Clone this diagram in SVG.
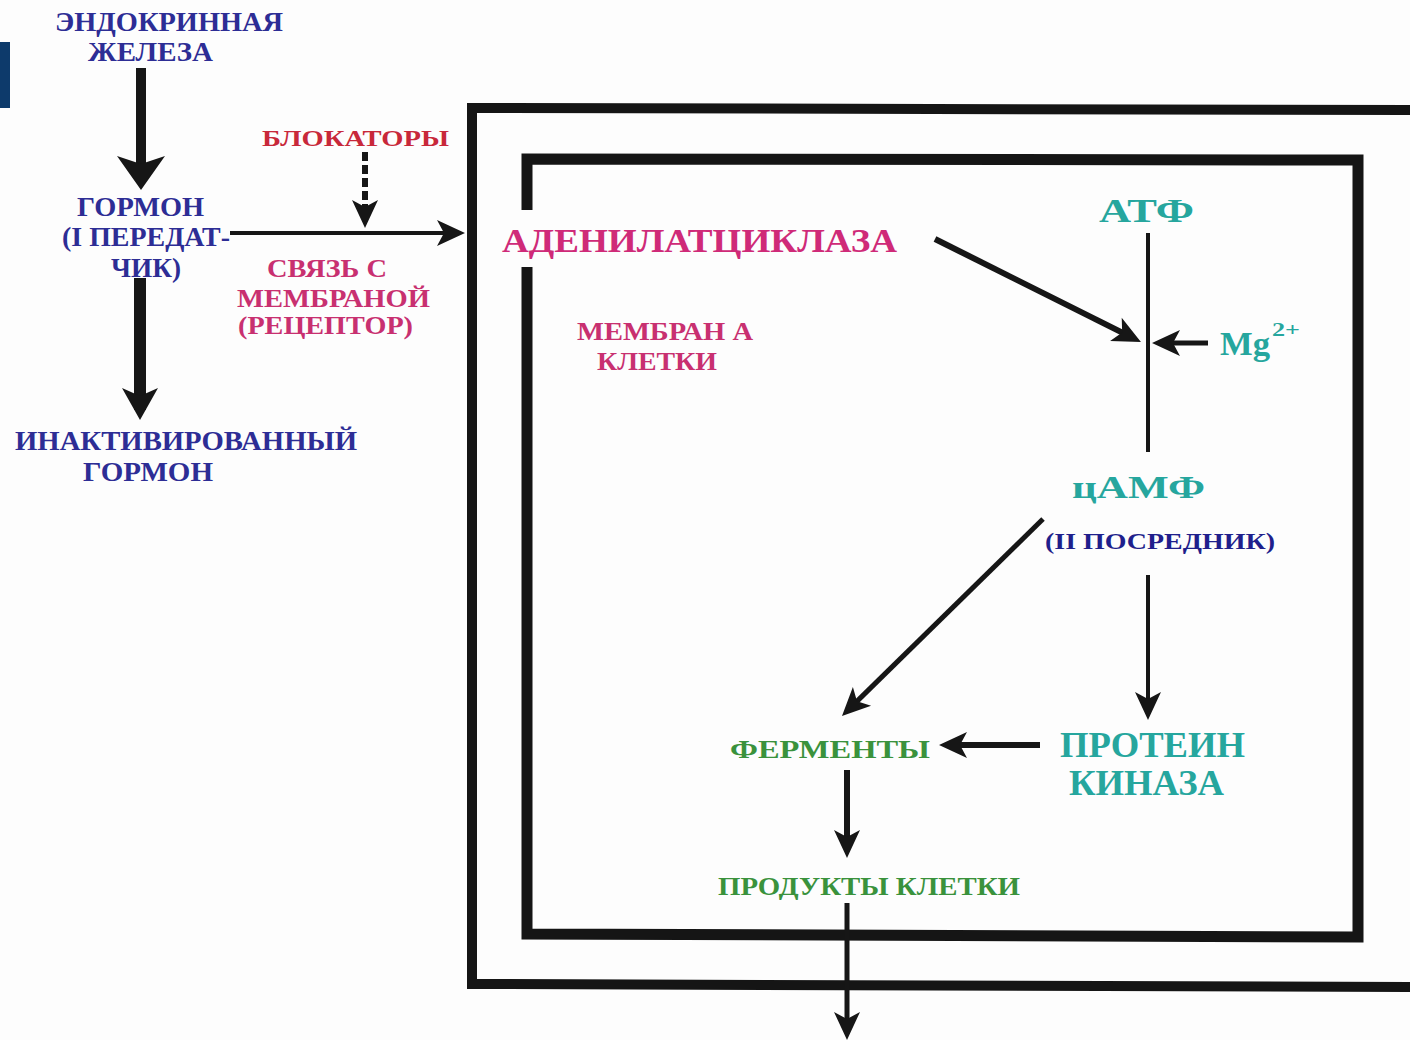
<svg xmlns="http://www.w3.org/2000/svg" width="1410" height="1040" viewBox="0 0 1410 1040">
<style>
  text { font-family: "Liberation Serif", "Times New Roman", serif; font-weight: bold; }
  .blue { fill: #2d2d95; font-size: 28px; }
  .dblue { fill: #1f1f8c; font-size: 23px; }
  .red { fill: #c8283a; font-size: 23px; }
  .pink { fill: #c83070; font-size: 25px; }
  .pinkL { fill: #cf2a78; font-size: 33px; }
  .teal { fill: #26a69e; font-size: 33px; }
  .green { fill: #3a923c; font-size: 25px; }
  .box { fill: none; stroke: #151515; stroke-linejoin: miter; }
  .ln { stroke: #161616; fill: none; }
</style>
<defs>
  <marker id="headS" markerUnits="userSpaceOnUse" orient="auto" markerWidth="40" markerHeight="40" refX="0" refY="0" viewBox="-25 -20 40 40" overflow="visible">
    <path d="M8,0 L-20,-13 L-13,0 L-20,13 Z" fill="#161616"/>
  </marker>
  <marker id="headM" markerUnits="userSpaceOnUse" orient="auto" markerWidth="50" markerHeight="50" refX="0" refY="0" viewBox="-25 -25 50 50" overflow="visible">
    <path d="M10,0 L-22,-18 L-14,0 L-22,18 Z" fill="#161616"/>
  </marker>
  <marker id="headL" markerUnits="userSpaceOnUse" orient="auto" markerWidth="60" markerHeight="60" refX="0" refY="0" viewBox="-30 -30 60 60" overflow="visible">
    <path d="M12,0 L-22,-24 L-14,0 L-22,24 Z" fill="#161616"/>
  </marker>
</defs>
<rect x="0" y="0" width="1410" height="1040" fill="#fdfdfd"/>
<rect x="0" y="42" width="10" height="66" fill="#0d3a6b"/>

<g id="cell-boxes">
  <path class="box" stroke-width="10" d="M1415,110 L472,108 L472,984 L1415,987"/>
  <path class="box" stroke-width="11" d="M527,210 L527,159 L1358,160 L1358,937 L527,934 L527,267"/>
</g>

<g id="connectors">
  <line class="ln" x1="141" y1="68" x2="141" y2="178" stroke-width="10" marker-end="url(#headL)"/>
  <line class="ln" x1="140" y1="278" x2="140" y2="410" stroke-width="12" marker-end="url(#headM)"/>
  <line class="ln" x1="230" y1="233" x2="457" y2="233" stroke-width="4" marker-end="url(#headS)"/>
  <line class="ln" x1="365" y1="152" x2="365" y2="220" stroke-width="6" stroke-dasharray="9 4" marker-end="url(#headS)"/>
  <line class="ln" x1="935" y1="239" x2="1133.8" y2="338.4" stroke-width="6" marker-end="url(#headS)"/>
  <line class="ln" x1="1208" y1="343" x2="1160" y2="343" stroke-width="5" marker-end="url(#headS)"/>
  <line class="ln" x1="1148" y1="233" x2="1148" y2="452" stroke-width="4"/>
  <line class="ln" x1="1043" y1="519" x2="847.7" y2="710.4" stroke-width="5" marker-end="url(#headS)"/>
  <line class="ln" x1="1148" y1="575" x2="1148" y2="712" stroke-width="4" marker-end="url(#headS)"/>
  <line class="ln" x1="1040" y1="745" x2="947" y2="745" stroke-width="6" marker-end="url(#headS)"/>
  <line class="ln" x1="847" y1="770" x2="847" y2="850" stroke-width="6" marker-end="url(#headS)"/>
  <line class="ln" x1="847" y1="903" x2="847" y2="1032" stroke-width="5" marker-end="url(#headS)"/>
</g>

<g id="node-gland">
  <text class="blue" x="55" y="31" textLength="228" lengthAdjust="spacingAndGlyphs">ЭНДОКРИННАЯ</text>
  <text class="blue" x="88" y="61" textLength="125" lengthAdjust="spacingAndGlyphs">ЖЕЛЕЗА</text>
</g>
<g id="node-hormone">
  <text class="blue" x="77" y="216" textLength="127" lengthAdjust="spacingAndGlyphs">ГОРМОН</text>
  <text class="blue" x="62" y="246" textLength="168" lengthAdjust="spacingAndGlyphs">(I ПЕРЕДАТ-</text>
  <text class="blue" x="111" y="277" textLength="70" lengthAdjust="spacingAndGlyphs">ЧИК)</text>
</g>
<g id="node-inactive">
  <text class="blue" x="15" y="450" textLength="342" lengthAdjust="spacingAndGlyphs">ИНАКТИВИРОВАННЫЙ</text>
  <text class="blue" x="83" y="481" textLength="130" lengthAdjust="spacingAndGlyphs">ГОРМОН</text>
</g>
<g id="node-blockers">
  <text class="red" x="262" y="146" textLength="187" lengthAdjust="spacingAndGlyphs">БЛОКАТОРЫ</text>
</g>
<g id="node-receptor">
  <text class="pink" x="267" y="277" textLength="120" lengthAdjust="spacingAndGlyphs">СВЯЗЬ С</text>
  <text class="pink" x="237" y="307" textLength="193" lengthAdjust="spacingAndGlyphs">МЕМБРАНОЙ</text>
  <text class="pink" x="238" y="334" textLength="175" lengthAdjust="spacingAndGlyphs">(РЕЦЕПТОР)</text>
</g>
<g id="node-adenylate">
  <text class="pinkL" x="502" y="252" textLength="395" lengthAdjust="spacingAndGlyphs">АДЕНИЛАТЦИКЛАЗА</text>
</g>
<g id="node-membrane">
  <text class="pink" x="577" y="340" textLength="176" lengthAdjust="spacingAndGlyphs">МЕМБРАН А</text>
  <text class="pink" x="597" y="370" textLength="120" lengthAdjust="spacingAndGlyphs">КЛЕТКИ</text>
</g>
<g id="node-atp">
  <text class="teal" x="1099" y="222" textLength="95" lengthAdjust="spacingAndGlyphs">АТФ</text>
</g>
<g id="node-mg">
  <text class="teal" x="1220" y="355" style="font-size:34px" textLength="50" lengthAdjust="spacingAndGlyphs">Mg</text>
  <text class="teal" x="1272" y="336" style="font-size:18px" textLength="28" lengthAdjust="spacingAndGlyphs">2+</text>
</g>
<g id="node-camp">
  <text class="teal" x="1072" y="498" style="font-size:31px" textLength="133" lengthAdjust="spacingAndGlyphs">цАМФ</text>
  <text class="dblue" x="1045" y="549" textLength="230" lengthAdjust="spacingAndGlyphs">(II ПОСРЕДНИК)</text>
</g>
<g id="node-enzymes">
  <text class="green" x="730" y="758" textLength="200" lengthAdjust="spacingAndGlyphs">ФЕРМЕНТЫ</text>
</g>
<g id="node-kinase">
  <text class="teal" x="1060" y="757" style="font-size:35px" textLength="185" lengthAdjust="spacingAndGlyphs">ПРОТЕИН</text>
  <text class="teal" x="1069" y="795" style="font-size:35px" textLength="155" lengthAdjust="spacingAndGlyphs">КИНАЗА</text>
</g>
<g id="node-products">
  <text class="green" x="718" y="895" textLength="302" lengthAdjust="spacingAndGlyphs">ПРОДУКТЫ КЛЕТКИ</text>
</g>
</svg>
